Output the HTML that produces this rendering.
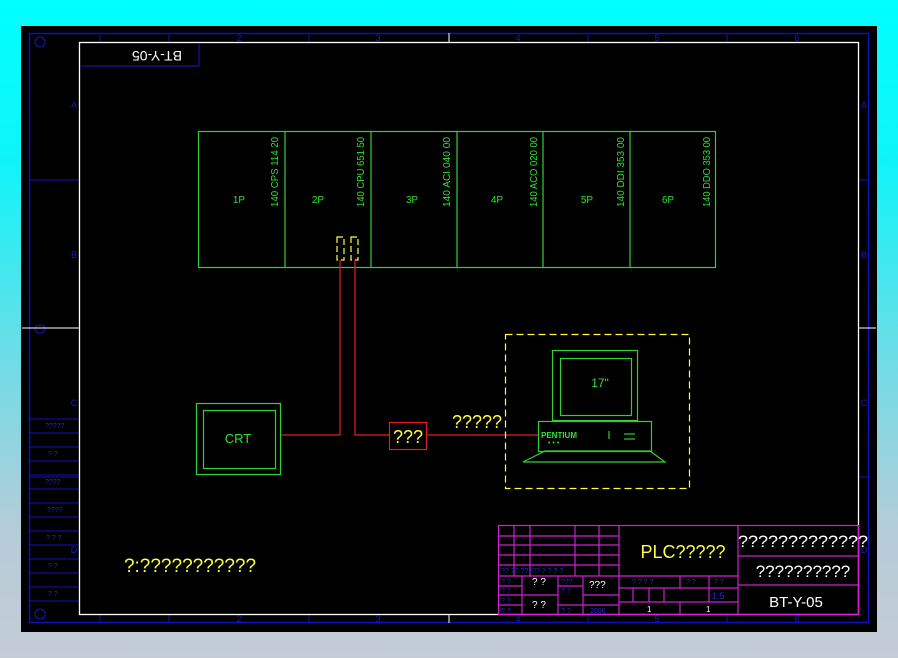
<!DOCTYPE html>
<html><head><meta charset="utf-8"><style>
html,body{margin:0;padding:0;}
body{width:898px;height:658px;background:linear-gradient(180deg,#00ffff 0%,#10f4f8 25%,#70dce6 55%,#b4ccd8 80%,#c4ccd6 100%);overflow:hidden;position:relative;}
svg{position:absolute;left:0;top:0;}
text{font-family:"Liberation Sans",sans-serif;}
</style></head><body>
<svg width="898" height="658" viewBox="0 0 898 658">
<rect x="21" y="26" width="856" height="606" fill="#000"/>
<!-- blue outer border -->
<rect x="29.5" y="33.5" width="839" height="589" fill="none" stroke="#1010c0" stroke-width="1.5"/>
<g stroke="#1010c0" stroke-width="1">
<line x1="169" y1="33" x2="169" y2="43"/><line x1="309" y1="33" x2="309" y2="43"/><line x1="588" y1="33" x2="588" y2="43"/><line x1="727" y1="33" x2="727" y2="43"/><line x1="100" y1="33" x2="100" y2="43"/>
<line x1="169" y1="615" x2="169" y2="623"/><line x1="309" y1="615" x2="309" y2="623"/><line x1="588" y1="615" x2="588" y2="623"/><line x1="727" y1="615" x2="727" y2="623"/><line x1="100" y1="615" x2="100" y2="623"/>
<line x1="29" y1="180" x2="79" y2="180"/><line x1="29" y1="477" x2="79" y2="477"/>
<line x1="859" y1="180" x2="869" y2="180"/><line x1="859" y1="477" x2="869" y2="477"/>
</g>
<g fill="#1818c8" font-size="9" text-anchor="middle">
<text x="239" y="41">2</text><text x="378" y="41">3</text><text x="518" y="41">4</text><text x="657" y="41">5</text><text x="797" y="41">6</text>
<text x="239" y="622">2</text><text x="378" y="622">3</text><text x="518" y="622">4</text><text x="657" y="622">5</text><text x="797" y="622">6</text>
<text x="74" y="108">A</text><text x="74" y="258">B</text><text x="74" y="406">C</text><text x="74" y="553">D</text>
<text x="864" y="108">A</text><text x="864" y="258">B</text><text x="864" y="406">C</text><text x="864" y="553">D</text>
</g>
<circle cx="40" cy="42" r="5" fill="none" stroke="#1818c8"/>
<circle cx="40" cy="614" r="5" fill="none" stroke="#1818c8"/>
<ellipse cx="40" cy="329" rx="5" ry="4" fill="none" stroke="#1818c8"/>
<!-- left side strip -->
<g stroke="#1010c0" stroke-width="1">
<line x1="29" y1="419" x2="79" y2="419"/><line x1="29" y1="433" x2="79" y2="433"/><line x1="29" y1="447" x2="79" y2="447"/><line x1="29" y1="461" x2="79" y2="461"/><line x1="29" y1="475" x2="79" y2="475"/><line x1="29" y1="489" x2="79" y2="489"/><line x1="29" y1="503" x2="79" y2="503"/><line x1="29" y1="517" x2="79" y2="517"/><line x1="29" y1="531" x2="79" y2="531"/><line x1="29" y1="545" x2="79" y2="545"/><line x1="29" y1="559" x2="79" y2="559"/><line x1="29" y1="573" x2="79" y2="573"/><line x1="29" y1="587" x2="79" y2="587"/><line x1="29" y1="601" x2="79" y2="601"/>
</g>
<g fill="#2828d0" font-size="7">
<text x="45" y="428">?????</text><text x="48" y="456">?  ?</text><text x="45" y="484">????</text><text x="47" y="512">????</text><text x="46" y="540">? ? ?</text><text x="48" y="568">?  ?</text><text x="48" y="596">?  ?</text>
</g>
<!-- white frame -->
<rect x="79.5" y="42.5" width="779" height="572" fill="none" stroke="#fff" stroke-width="1.3"/>
<line x1="22" y1="328" x2="79" y2="328" stroke="#fff"/><line x1="859" y1="328" x2="876" y2="328" stroke="#fff"/>
<line x1="449" y1="33" x2="449" y2="42" stroke="#fff"/><line x1="449" y1="615" x2="449" y2="623" stroke="#fff"/>
<path d="M80 66H199V43" fill="none" stroke="#1818c8"/>
<text x="157" y="61" fill="#fff" font-size="14" text-anchor="middle" transform="rotate(180 157 56)">BT-Y-05</text>
<!-- rack -->
<g stroke="#30d030" fill="none" stroke-width="1.2">
<rect x="198.5" y="131.5" width="517" height="136"/>
<line x1="285" y1="131" x2="285" y2="267"/><line x1="371" y1="131" x2="371" y2="267"/><line x1="457" y1="131" x2="457" y2="267"/><line x1="543" y1="131" x2="543" y2="267"/><line x1="630" y1="131" x2="630" y2="267"/>
</g>
<g fill="#30e030" font-size="10" text-anchor="middle">
<text x="239" y="203">1P</text><text x="318" y="203">2P</text><text x="412" y="203">3P</text><text x="497" y="203">4P</text><text x="587" y="203">5P</text><text x="668" y="203">6P</text>
<text transform="translate(278,172) rotate(-90)" textLength="70" lengthAdjust="spacingAndGlyphs">140 CPS 114 20</text>
<text transform="translate(364,172) rotate(-90)" textLength="70" lengthAdjust="spacingAndGlyphs">140 CPU 651 50</text>
<text transform="translate(450,172) rotate(-90)" textLength="70" lengthAdjust="spacingAndGlyphs">140 ACI 040 00</text>
<text transform="translate(537,172) rotate(-90)" textLength="70" lengthAdjust="spacingAndGlyphs">140 ACO 020 00</text>
<text transform="translate(624,172) rotate(-90)" textLength="70" lengthAdjust="spacingAndGlyphs">140 DDI 353 00</text>
<text transform="translate(710,172) rotate(-90)" textLength="70" lengthAdjust="spacingAndGlyphs">140 DDO 353 00</text>
</g>
<!-- connectors -->
<g stroke="#ffff40" fill="none" stroke-width="1.2" stroke-dasharray="6,3">
<rect x="337" y="237" width="7" height="23"/><rect x="351" y="237" width="7" height="23"/>
</g>
<g stroke="#e02020" fill="none" stroke-width="1.2">
<polyline points="340,260 340,435 281,435"/>
<polyline points="355,260 355,435 389,435"/>
<rect x="389.5" y="422.5" width="37" height="27"/>
<line x1="427" y1="435" x2="538" y2="435"/>
</g>
<text x="408" y="443" fill="#ffff40" font-size="18" text-anchor="middle">???</text>
<text x="477" y="428" fill="#ffff40" font-size="18" text-anchor="middle">?????</text>
<!-- CRT -->
<g stroke="#30d030" fill="none" stroke-width="1.2">
<rect x="196.5" y="403.5" width="84" height="71"/><rect x="203.5" y="410.5" width="72" height="58"/>
</g>
<text x="238" y="443" fill="#30e030" font-size="13" text-anchor="middle">CRT</text>
<!-- computer -->
<rect x="505.5" y="334.5" width="184" height="154" fill="none" stroke="#ffff40" stroke-width="1.2" stroke-dasharray="7,4"/>
<g stroke="#30d030" fill="none" stroke-width="1.2">
<rect x="552.5" y="350.5" width="85" height="70"/><rect x="560.5" y="358.5" width="71" height="57"/>
<rect x="538.5" y="421.5" width="113" height="30"/>
<polygon points="545,451 650,451 665,462 523,462"/>
<line x1="609" y1="431" x2="609" y2="439"/><line x1="624" y1="434" x2="635" y2="434"/><line x1="624" y1="439" x2="635" y2="439"/>
</g>
<text x="600" y="387" fill="#30e030" font-size="12" text-anchor="middle">17"</text>
<text x="541" y="438" fill="#30e030" font-size="8" font-weight="bold">PENTIUM</text>
<text x="548" y="445" fill="#30e030" font-size="7">• • •</text>
<text x="190" y="572" fill="#ffff40" font-size="19" text-anchor="middle">?:???????????</text>
<!-- title block -->
<g stroke="#d020d0" fill="none" stroke-width="1.2">
<rect x="498.5" y="525.5" width="360" height="89"/>
<line x1="619" y1="525" x2="619" y2="615"/><line x1="738" y1="525" x2="738" y2="615"/>
<line x1="498" y1="536" x2="619" y2="536"/><line x1="498" y1="545" x2="619" y2="545"/><line x1="498" y1="555" x2="619" y2="555"/><line x1="498" y1="565" x2="619" y2="565"/><line x1="498" y1="576" x2="738" y2="576"/>
<line x1="514" y1="525" x2="514" y2="576"/><line x1="530" y1="525" x2="530" y2="576"/><line x1="575" y1="525" x2="575" y2="576"/><line x1="599" y1="525" x2="599" y2="576"/>
<line x1="522" y1="576" x2="522" y2="615"/><line x1="558" y1="576" x2="558" y2="615"/><line x1="583" y1="576" x2="583" y2="615"/>
<line x1="498" y1="586" x2="522" y2="586"/><line x1="498" y1="595" x2="522" y2="595"/><line x1="498" y1="605" x2="522" y2="605"/>
<line x1="558" y1="586" x2="583" y2="586"/><line x1="558" y1="605" x2="583" y2="605"/><line x1="522" y1="595" x2="558" y2="595"/>
<line x1="583" y1="595" x2="619" y2="595"/><line x1="583" y1="605" x2="619" y2="605"/>
<line x1="619" y1="588" x2="738" y2="588"/><line x1="619" y1="602" x2="738" y2="602"/>
<line x1="680" y1="576" x2="680" y2="588"/><line x1="709" y1="576" x2="709" y2="602"/><line x1="680" y1="602" x2="680" y2="615"/>
<line x1="633" y1="588" x2="633" y2="602"/><line x1="649" y1="588" x2="649" y2="602"/><line x1="664" y1="588" x2="664" y2="602"/>
<line x1="738" y1="556" x2="859" y2="556"/><line x1="738" y1="585" x2="859" y2="585"/>
</g>
<g fill="#2828d0" font-size="7">
<text x="501" y="573">?? ??   ?????    ? ?  ? ?</text>
<text x="501" y="584">? ?</text><text x="501" y="593">? ?</text><text x="501" y="603">? ?</text><text x="501" y="613">? ?</text>
<text x="561" y="584">???</text><text x="561" y="593">? ?</text><text x="561" y="613">? ?</text><text x="590" y="613">2006</text>
<text x="632" y="584">? ? ? ?</text><text x="686" y="584">? ?</text><text x="714" y="584">? ?</text>
<text x="712" y="599" font-size="9">1:5</text>
</g>
<g fill="#fff" font-size="10">
<text x="532" y="585">? ?</text><text x="532" y="608">? ?</text><text x="589" y="588">???</text>
<text x="647" y="612" font-size="8">1</text><text x="706" y="612" font-size="8">1</text>
</g>
<text x="683" y="558" fill="#ffff40" font-size="18" text-anchor="middle">PLC?????</text>
<text x="803" y="547" fill="#fff" font-size="17" text-anchor="middle" textLength="130" lengthAdjust="spacingAndGlyphs">?????????????</text>
<text x="803" y="577" fill="#fff" font-size="17" text-anchor="middle">??????????</text>
<text x="796" y="607" fill="#fff" font-size="15" text-anchor="middle">BT-Y-05</text>
</svg>
</body></html>
